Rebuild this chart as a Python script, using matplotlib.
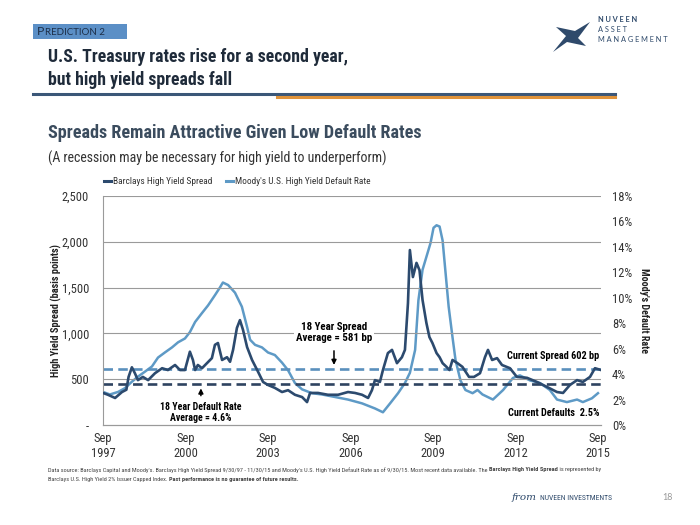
import matplotlib
matplotlib.use("Agg")
import matplotlib.pyplot as plt
from matplotlib import font_manager as fm
from matplotlib.patches import Polygon
from matplotlib.lines import Line2D

# spread (bp), fractional years
spread_years = [1997.75, 1997.93, 1998.19, 1998.44, 1998.60, 1998.68, 1998.80, 1998.91, 1999.02, 1999.20,
                1999.39, 1999.64, 1999.90, 2000.11, 2000.37, 2000.55, 2000.73, 2000.91, 2001.02, 2001.10,
                2001.20, 2001.35, 2001.53, 2001.71, 2001.82, 2001.93, 2002.08, 2002.26, 2002.37, 2002.48,
                2002.62, 2002.73, 2002.84, 2002.99, 2003.17, 2003.39, 2003.57, 2003.75, 2004.00, 2004.26,
                2004.48, 2004.73, 2004.99, 2005.17, 2005.28, 2005.57, 2005.93, 2006.30, 2006.66, 2006.91,
                2007.17, 2007.39, 2007.53, 2007.64, 2007.82, 2007.93, 2008.11, 2008.26, 2008.44, 2008.62,
                2008.73, 2008.84, 2008.91, 2009.02, 2009.15, 2009.26, 2009.37, 2009.51, 2009.62, 2009.73,
                2009.88, 2009.99, 2010.10, 2010.24, 2010.35, 2010.46, 2010.64, 2010.82, 2011.06, 2011.24,
                2011.46, 2011.64, 2011.75, 2011.90, 2012.08, 2012.26, 2012.55, 2012.80, 2013.17, 2013.53,
                2013.90, 2014.26, 2014.48, 2014.73, 2014.99, 2015.20, 2015.46, 2015.64, 2015.84]
spread_bp = [350, 330, 295, 360, 385, 525, 630, 565, 490, 525,
             490, 565, 620, 600, 655, 600, 600, 800, 710, 600,
             655, 620, 675, 730, 875, 895, 710, 740, 690, 820,
             1060, 1145, 1040, 850, 710, 580, 470, 437, 405, 360,
             380, 330, 305, 250, 350, 350, 330, 330, 360, 350,
             330, 295, 380, 490, 470, 600, 785, 820, 675, 740,
             820, 1330, 1910, 1615, 1770, 1690, 1365, 1115, 960, 895,
             785, 740, 675, 635, 600, 710, 675, 635, 525, 525,
             565, 740, 820, 710, 730, 655, 620, 525, 515, 470,
             415, 360, 350, 437, 490, 470, 525, 620, 602]

# Moody's default rate (%)
default_years = [1997.75, 1998.00, 1998.30, 1998.55, 1998.80, 1999.02, 1999.28, 1999.53, 1999.75, 2000.00,
                 2000.26, 2000.48, 2000.73, 2000.91, 2001.10, 2001.35, 2001.57, 2001.82, 2002.00, 2002.11,
                 2002.30, 2002.55, 2002.80, 2002.99, 2003.10, 2003.28, 2003.53, 2003.75, 2004.00, 2004.26,
                 2004.48, 2004.73, 2004.99, 2005.35, 2005.71, 2006.19, 2006.66, 2007.17, 2007.64, 2007.93,
                 2008.19, 2008.48, 2008.73, 2008.91, 2009.10, 2009.22, 2009.37, 2009.55, 2009.66, 2009.77,
                 2009.88, 2009.99, 2010.10, 2010.21, 2010.32, 2010.46, 2010.57, 2010.75, 2010.93, 2011.19,
                 2011.37, 2011.55, 2011.93, 2012.30, 2012.66, 2012.91, 2013.28, 2013.64, 2014.00, 2014.26,
                 2014.62, 2014.99, 2015.20, 2015.53, 2015.75]
default_pct = [2.6, 2.4, 2.6, 2.9, 3.4, 3.8, 4.2, 4.6, 5.3, 5.7,
               6.1, 6.5, 6.8, 7.3, 8.1, 8.8, 9.4, 10.2, 10.8, 11.2,
               11.0, 10.4, 9.3, 7.7, 6.7, 6.3, 6.1, 5.7, 5.5, 4.9,
               4.3, 3.3, 2.8, 2.5, 2.4, 2.2, 2.0, 1.7, 1.3, 1.0,
               1.7, 2.5, 3.3, 4.1, 5.9, 9.8, 12.2, 13.5, 14.3, 15.5,
               15.7, 15.6, 14.5, 11.9, 9.3, 6.9, 5.1, 3.5, 2.75, 2.5,
               2.75, 2.4, 2.0, 2.75, 3.7, 3.9, 3.5, 3.3, 2.75, 2.0,
               1.8, 2.0, 1.8, 2.1, 2.5]

# dashed average lines, at the heights drawn in the picture (bp)
avg_light = 610
avg_dark = 450

left_ticks = [0, 500, 1000, 1500, 2000, 2500]
left_labels = ["-", "500", "1,000", "1,500", "2,000", "2,500"]
right_ticks = [0, 2, 4, 6, 8, 10, 12, 14, 16, 18]
x_ticks = [1997.75, 2000.75, 2003.75, 2006.75, 2009.75, 2012.75, 2015.75]
x_labels = ["Sep\n1997", "Sep\n2000", "Sep\n2003", "Sep\n2006", "Sep\n2009", "Sep\n2012", "Sep\n2015"]
legend_labels = ["Barclays High Yield Spread", "Moody's U.S. High Yield Default Rate"]

DARK = "#2c4a6e"
LIGHT = "#5e9ac6"
NAVY = "#2f4a6b"
WIDE = "Lato"

# look for a narrow sans; fall back to Roboto and fit text widths
names = sorted({f.name for f in fm.fontManager.ttflist})
cond = None
for cand in ["Liberation Sans Narrow", "Roboto Condensed", "Open Sans Condensed", "Noto Sans Condensed",
             "DejaVu Sans Condensed", "Noto Sans Display Condensed"]:
    if cand in names:
        cond = cand
        break
if cond is None:
    extra = [n for n in names if ("Condensed" in n or "Narrow" in n) and "CJK" not in n]
    cond = extra[0] if extra else "Roboto"
plt.rcParams['font.family'] = [cond, 'DejaVu Sans']

fig = plt.figure(figsize=(7, 5.25), dpi=100)
fig.patch.set_facecolor("white")
renderer = fig.canvas.get_renderer()


def fit_w(t, px):
    bb = t.get_window_extent(renderer)
    t.set_fontsize(t.get_fontsize() * px / bb.width)
    return t


def fit_h(t, px):
    bb = t.get_window_extent(renderer)
    t.set_fontsize(t.get_fontsize() * px / bb.height)
    return t


def fx(x):
    return x / 700


def fy(y):
    return 1 - y / 525


ax = fig.add_axes([fx(103), fy(425), 498/700, 229/525])
ax2 = ax.twinx()

ax.set_ylim(0, 2500)
ax.set_xlim(1997.75, 2015.86)
ax2.set_ylim(0, 18)
for y in left_ticks[1:]:
    ax.axhline(y, color="#9a9a9a", lw=0.8, zorder=0)

ax.axhline(avg_light, color="#5a90bd", lw=1.9, dashes=(3.6, 2.0), zorder=2)
ax.axhline(avg_dark, color="#2e4360", lw=1.9, dashes=(3.6, 2.0), zorder=2)

ax2.plot(default_years, default_pct, color=LIGHT, lw=1.8, zorder=3)
ax.plot(spread_years, spread_bp, color=DARK, lw=1.9, zorder=4)
ax.set_zorder(ax2.get_zorder() + 1)
ax.patch.set_visible(False)

for a in (ax, ax2):
    for s in ("top", "right"):
        a.spines[s].set_visible(False)
    a.spines["left"].set_color("#9a9a9a")
    a.spines["bottom"].set_color("#9a9a9a")
    a.tick_params(length=0, labelsize=9, colors="#333333")
ax2.spines["left"].set_visible(False)

ax.set_yticks(left_ticks)
ax.set_yticklabels(left_labels)
ax.tick_params(axis="y", pad=10)
ax2.set_yticks(right_ticks)
ax2.set_yticklabels([f"{t}%" for t in right_ticks])
ax2.tick_params(axis="y", pad=8)
ax.set_xticks(x_ticks)
ax.set_xticklabels(x_labels, linespacing=1.25)
ax.tick_params(axis="x", pad=5)

ax.set_ylabel("High Yield Spread (basis points)", fontsize=8.5, fontweight="bold", labelpad=0, color="#222222")
ax2.set_ylabel("Moody's Default Rate", fontsize=8.5, fontweight="bold", rotation=-90, labelpad=12, color="#222222")
fit_h(ax.yaxis.label, 133)
fit_h(ax2.yaxis.label, 84)

# annotations
t = ax.text(2006.15, 1010, "18 Year Spread\nAverage = 581 bp", ha="center", va="center", fontsize=8.5,
            fontweight="bold", linespacing=1.1, zorder=6,
            bbox=dict(facecolor="white", edgecolor="none", pad=1.5))
fit_w(t, 76)
ax.annotate("", xy=(2006.15, 625), xytext=(2006.15, 840),
            arrowprops=dict(arrowstyle="-|>", color="black", lw=1.1, mutation_scale=7), zorder=6)
t = ax.text(2001.31, 135, "18 Year Default Rate\nAverage = 4.6%", ha="center", va="center", fontsize=8.5,
            fontweight="bold", linespacing=1.1, zorder=6)
fit_w(t, 81)
ax.annotate("", xy=(2001.31, 430), xytext=(2001.31, 290),
            arrowprops=dict(arrowstyle="-|>", color="black", lw=1.1, mutation_scale=7), zorder=6)
t = ax.text(2015.8, 750, "Current Spread 602 bp", ha="right", va="center", fontsize=8.5, fontweight="bold", zorder=6)
fit_w(t, 92)
t = ax.text(2015.8, 130, "Current Defaults  2.5%", ha="right", va="center", fontsize=8.5, fontweight="bold", zorder=6)
fit_w(t, 90)

# legend, drawn by hand at the reference spots
for (x0, x1, tx), c, lab in zip([(104, 111, 113), (226, 233, 235)], [DARK, LIGHT], legend_labels):
    fig.add_artist(Line2D([fx(x0), fx(x1)], [fy(181), fy(181)], color=c, lw=2.2, transform=fig.transFigure))
    t = fig.text(fx(tx), fy(181), lab, fontsize=7.5, color="#333333", va="center")
lt = fig.texts[-2]
fit_w(lt, 99)
fig.texts[-1].set_fontsize(lt.get_fontsize())

# header
fig.patches.append(plt.Rectangle((fx(33), fy(39)), 94/700, 15/525, transform=fig.transFigure,
                                 facecolor="#5b8fc6", edgecolor="none"))
p1 = fig.text(fx(37), fy(31.5), "P", fontsize=8.8, color="#1d2f48", va="center", family=WIDE)
w = p1.get_window_extent(renderer).width
p2 = fig.text(fx(37 + w + 0.5), fy(32.2), "REDICTION 2", fontsize=7, color="#1d2f48", va="center", family=WIDE)
p2.set_fontsize(min(7, p2.get_fontsize() * (121 - 37 - w - 0.5) / p2.get_window_extent(renderer).width))

t1 = fig.text(fx(48), fy(57), "U.S. Treasury rates rise for a second year,", fontsize=15,
              fontweight="bold", color="#1f2b3a", va="center")
fit_w(t1, 300)
fig.text(fx(48), fy(80), "but high yield spreads fall", fontsize=t1.get_fontsize(),
         fontweight="bold", color="#1f2b3a", va="center")
fig.add_artist(Line2D([fx(33), fx(615)], [fy(94), fy(94)], color="#3b5778", lw=2.2,
                      transform=fig.transFigure))
fig.add_artist(Line2D([fx(277), fx(615)], [fy(97), fy(97)], color="#e0933a", lw=2.2,
                      transform=fig.transFigure))

# logo
logo = [(553, 52), (566, 36), (556, 27), (575, 31), (590, 22), (578, 38), (586, 46), (567, 42)]
fig.patches.append(Polygon([(fx(x), fy(y)) for x, y in logo], closed=True, transform=fig.transFigure,
                           facecolor=NAVY, edgecolor="none"))
n1 = fig.text(fx(598), fy(19), "N U V E E N", fontsize=6.8, fontweight="bold", color=NAVY, va="center", family=WIDE)
n2 = fig.text(fx(598), fy(29), "A S S E T", fontsize=6.8, color=NAVY, va="center", family=WIDE)
n3 = fig.text(fx(598), fy(39), "M A N A G E M E N T", fontsize=6.8, color=NAVY, va="center", family=WIDE)
fit_w(n3, 70)
n1.set_fontsize(n3.get_fontsize())
n2.set_fontsize(n3.get_fontsize())

t = fig.text(fx(48), fy(133), "Spreads Remain Attractive Given Low Default Rates", fontsize=15.5,
             fontweight="bold", color="#3b4c5e", va="center")
fit_w(t, 375)
t = fig.text(fx(48), fy(158), "(A recession may be necessary for high yield to underperform)", fontsize=12.5,
             color="#333333", va="center")
fit_w(t, 342)


# footer with mixed weights
def write_run(pieces, x, y, size):
    for txt, wt in pieces:
        t = fig.text(fx(x), fy(y), txt, fontsize=size, fontweight=wt, color="#444444", va="center")
        x += t.get_window_extent(renderer).width
    return x


line1 = [("Data source: Barclays Capital and Moody's. Barclays High Yield Spread 9/30/97 - 11/30/15 and Moody's U.S. "
          "High Yield Default Rate as of 9/30/15. Most recent data available. The ", "normal"),
         ("Barclays High Yield Spread", "bold"), (" is represented by", "normal")]
line2 = [("Barclays U.S. High Yield 2% Issuer Capped Index. ", "normal"),
         ("Past performance is no guarantee of future results.", "bold")]
probe = write_run(line1, 48, 470, 5.2)
size = 5.2 * (603 - 48) / (probe - 48)
for t in fig.texts[-3:]:
    t.remove()
write_run(line1, 48, 470, size)
write_run(line2, 48, 479, size)

f1 = fig.text(fx(512), fy(498), "from", fontsize=7.5, style="italic", family="DejaVu Serif", color=NAVY, va="center")
wf = f1.get_window_extent(renderer).width
f2 = fig.text(fx(512 + wf + 3), fy(498), "NUVEEN INVESTMENTS", fontsize=8.5, color=NAVY, va="center")
fit_w(f2, 612 - 512 - wf - 3)
fig.text(fx(662), fy(498), "18", fontsize=6.5, color="#999999", va="center", family=WIDE)

fig.savefig("out.png", dpi=100)
